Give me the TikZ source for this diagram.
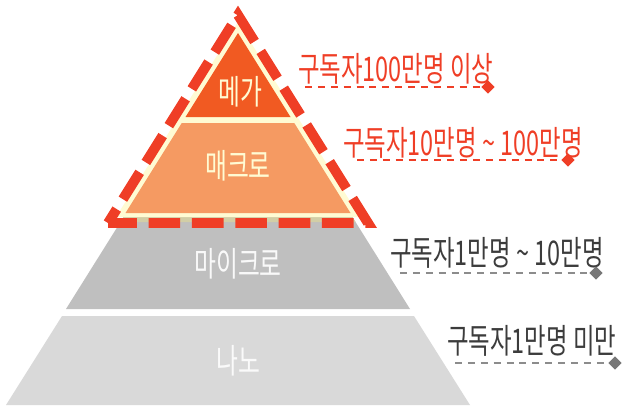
\documentclass[tikz,border=0pt]{standalone}
\usepackage{fontspec}
\newfontfamily\kr[FakeStretch=0.69]{Noto Sans CJK KR}
\newfontfamily\krlayer[FakeStretch=0.7]{Noto Sans CJK KR}
\usetikzlibrary{shapes.geometric}
\definecolor{megaorange}{HTML}{F15A22}
\definecolor{macroorange}{HTML}{F59A62}
\definecolor{cream}{HTML}{FFFBD3}
\definecolor{khaki}{HTML}{D2CEA6}
\definecolor{redline}{HTML}{EF3E26}
\definecolor{microgray}{HTML}{BFBFBF}
\definecolor{nanogray}{HTML}{D9D9D9}
\definecolor{textgray}{HTML}{3C3C3C}
\definecolor{dashgray}{HTML}{8C8C8C}
\definecolor{bulletgray}{HTML}{777777}
\tikzset{
  layer/.style={font=\krlayer\fontsize{29}{29}\selectfont, inner sep=0pt, anchor=base},
  subslabel/.style={font=\kr\fontsize{29}{29}\selectfont, inner sep=0pt, anchor=base west},
  underline/.style={line width=1.2pt, dash pattern=on 6pt off 5pt},
  bullet/.style={diamond, inner sep=0pt, minimum size=0.4cm}
}

\begin{document}
\begin{tikzpicture}[x=0.03cm, y=-0.03cm]
	\useasboundingbox (0,0) rectangle (623,408);
	\fill[nanogray] (62,316) -- (414,316) -- (470,405) -- (6,405) -- cycle;
	\fill[microgray] (123.6,217) -- (352.4,217) -- (410,309) -- (66,309) -- cycle;
	\fill[khaki] (123.6,217) -- (352.4,217) -- (355.5,222) -- (120.5,222) -- cycle;
	\fill[cream] (238,22) -- (360,217) -- (116,217) -- cycle;
	\fill[megaorange] (238,33) -- (290.5,117) -- (185.5,117) -- cycle;
	\fill[macroorange] (181.75,123) -- (294.25,123) -- (350.5,213) -- (125.5,213) -- cycle;
	\draw[redline, line width=8.5pt, line join=miter, dash pattern=on 27pt off 10pt, dash phase=13pt] (108,223) -- (238,15) -- (368,223) -- cycle;

	\node[layer, cream] (mega) at (240,104) {메가};
	\node[layer, cream] (macro) at (238,178) {매크로};
	\node[layer, white!95!gray] (micro) at (238,276) {마이크로};
	\node[layer, white!96!gray] (nano) at (238,373) {나노};

	\node[subslabel, redline] (t1) at (298,81) {구독자100만명 이상};
	\node[subslabel, redline] (t2) at (343,155) {구독자10만명 \textasciitilde{} 100만명};
	\node[subslabel, textgray] (t3) at (390,265) {구독자1만명 \textasciitilde{} 10만명};
	\node[subslabel, textgray] (t4) at (447,353) {구독자1만명 미만};

	\node[bullet, fill=redline] (d1) at (488,87) {};
	\node[bullet, fill=redline] (d2) at (568,160) {};
	\node[bullet, fill=bulletgray] (d3) at (596,273) {};
	\node[bullet, fill=bulletgray] (d4) at (615,363) {};
	\coordinate (u1) at (305,87);
	\coordinate (u2) at (357,160);
	\coordinate (u3) at (400,273);
	\coordinate (u4) at (455,363);
	\draw[underline, redline] (u1) -- (d1);
	\draw[underline, redline] (u2) -- (d2);
	\draw[underline, dashgray] (u3) -- (d3);
	\draw[underline, dashgray] (u4) -- (d4);
\end{tikzpicture}
\end{document}
